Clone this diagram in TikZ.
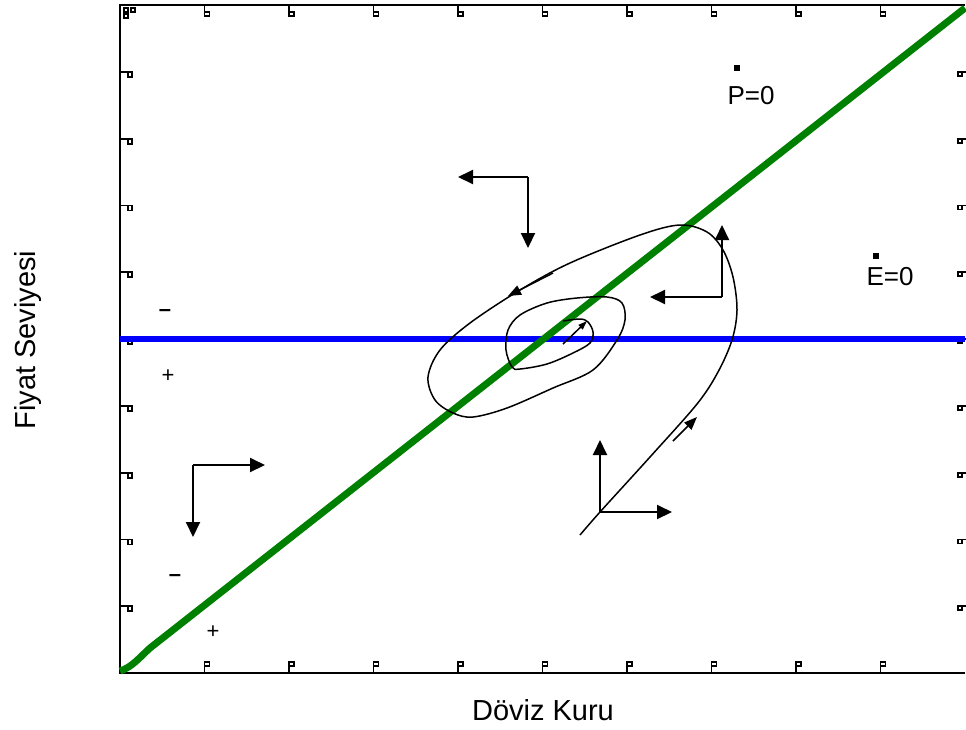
\documentclass[tikz,border=0pt]{standalone}
\usepackage{fontspec}
\setmainfont{Liberation Sans}
\usetikzlibrary{arrows.meta}
\definecolor{curvegreen}{HTML}{008000}
\definecolor{lineblue}{HTML}{0000FF}
\tikzset{
  frame/.style={line width=2.5pt},
  tickmark/.style={line width=1.8pt},
  greenline/.style={draw=curvegreen,line width=7pt},
  blueline/.style={draw=lineblue,line width=6.5pt},
  traj/.style={line width=1.5pt},
  arr/.style={-{Triangle[length=15pt,width=14pt]},line width=2pt},
  sarr/.style={-{Triangle[length=13pt,width=10pt]},line width=1.5pt},
  sign/.style={font=\fontsize{22}{26}\selectfont,inner sep=0pt},
  lbl/.style={font=\fontsize{26}{30}\selectfont,inner sep=0pt},
  axtitle/.style={font=\fontsize{29}{34}\selectfont,inner sep=0pt},
  dotmark/.style={fill=black,minimum size=6pt,inner sep=0pt}
}
\begin{document}
\begin{tikzpicture}[x=1pt,y=-1pt]
  \useasboundingbox (0,0) rectangle (966,729);
  % frame
  \draw[frame] (965,5) -- (120,5) -- (120,673) -- (965,673);
  % ticks
  \foreach \i in {1,...,9} {
    \draw[tickmark] ({120+84.5*\i},673) -- ++(0,-11) rectangle ++(5,4);
    \draw[tickmark] ({120+84.5*\i},5) -- ++(0,11) rectangle ++(5,-4);
  }
  \foreach \j in {1,...,9} {
    \draw[tickmark] (120,{5+66.8*\j}) -- ++(8,0) rectangle ++(4,5);
    \draw[tickmark] (966,{5+66.8*\j}) -- ++(-4,0) rectangle ++(-4,4);
  }
  \draw[tickmark] (124,8) rectangle ++(4,4);
  \draw[tickmark] (124,14) rectangle ++(4,4);
  \draw[tickmark] (131,8) rectangle ++(4,4);
  % equilibrium lines
  \coordinate (bl) at (120,339);
  \coordinate (br) at (965,339);
  \draw[blueline] (bl) -- (br);
  \coordinate (g0) at (120,671);
  \coordinate (g1) at (150,648);
  \coordinate (g2) at (965,8);
  \draw[greenline] (g0) .. controls (132,667) and (138,659) .. (g1) -- (g2);
  % trajectory
  \draw[traj] plot[smooth,tension=0.55] coordinates {
    (580,535) (600,512) (650,457) (697,404) (718,372) (732,340) (737,310)
    (733,277) (723,250) (707,232) (680,225) (640,235) (570,263) (520,290)
    (470,323) (440,350) (428,377) (435,400) (453,413) (473,417) (507,408)
    (553,388) (593,370) (617,340) (625,320) (622,303) (607,297) (577,298)
    (547,303) (520,315) (508,330) (506,350) (512,367) (520,369) (547,364)
    (573,353) (590,343) (593,332) (588,322) (580,319) (563,321)};
  \coordinate (t1s) at (553,273); \coordinate (t1e) at (508,296);
  \coordinate (t2s) at (673,441); \coordinate (t2e) at (697,417);
  \coordinate (t3s) at (563,344); \coordinate (t3e) at (587,321);
  \draw[sarr] (t1s) -- (t1e);
  \draw[sarr] (t2s) -- (t2e);
  \draw[-{Triangle[length=9pt,width=6pt]},line width=1.5pt] (t3s) -- (t3e);
  % direction arrows
  \coordinate (ul) at (528,177);
  \coordinate (ulx) at (458,177); \coordinate (uly) at (528,248);
  \draw[arr] (ul) -- (ulx);
  \draw[arr] (ul) -- (uly);
  \coordinate (ur) at (722,297);
  \coordinate (urx) at (650,297); \coordinate (ury) at (722,225);
  \draw[arr] (ur) -- (urx);
  \draw[arr] (ur) -- (ury);
  \coordinate (ll) at (193,465);
  \coordinate (llx) at (265,465); \coordinate (lly) at (193,537);
  \draw[arr] (ll) -- (llx);
  \draw[arr] (ll) -- (lly);
  \coordinate (lr) at (600,512);
  \coordinate (lrx) at (672,512); \coordinate (lry) at (600,440);
  \draw[arr] (lr) -- (lrx);
  \draw[arr] (lr) -- (lry);
  % signs
  \node[sign] (m1) at (165,313) {\textbf{--}};
  \node[sign] (p1) at (168,376) {+};
  \node[sign] (m2) at (175,578) {\textbf{--}};
  \node[sign] (p2) at (213,632) {+};
  % labels
  \node[lbl] (pzero) at (751,96) {P=0};
  \node[dotmark] (pdot) at (737,68) {};
  \node[lbl] (ezero) at (890,277) {E=0};
  \node[dotmark] (edot) at (876,256) {};
  \node[axtitle] (xtitle) at (543,710) {Döviz Kuru};
  \node[axtitle,rotate=90] (ytitle) at (28,340) {Fiyat Seviyesi};
\end{tikzpicture}
\end{document}
